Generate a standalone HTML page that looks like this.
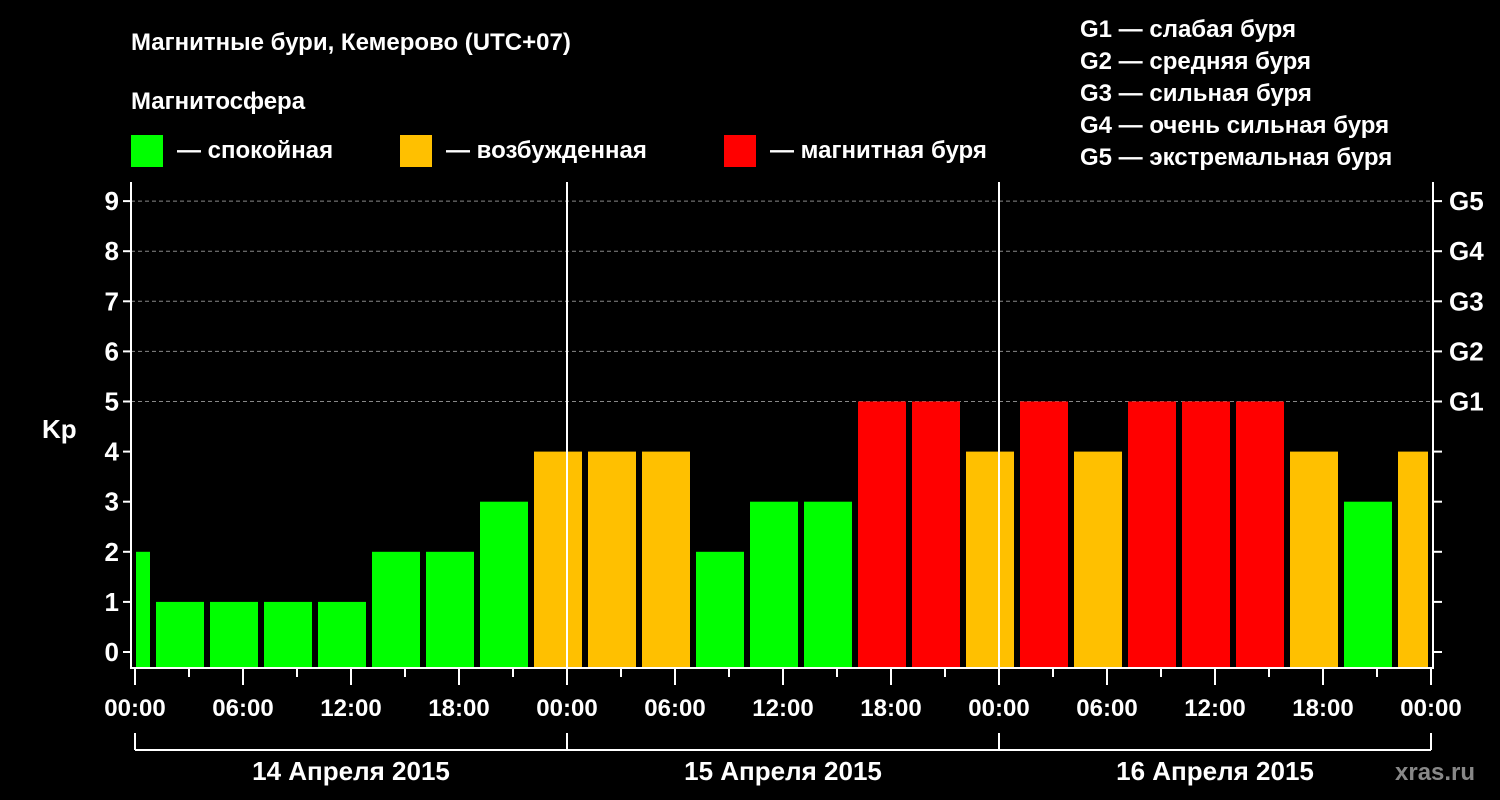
<!DOCTYPE html>
<html><head><meta charset="utf-8"><style>
html,body{margin:0;padding:0;background:#000;}
svg{display:block;font-family:"Liberation Sans",Arial,sans-serif;font-weight:bold;}
</style></head><body>
<svg id="chart" width="1500" height="800" viewBox="0 0 1500 800">
<rect width="1500" height="800" fill="#000"/>
<text x="131" y="50" fill="#fff" font-size="24">Магнитные бури, Кемерово (UTC+07)</text>
<text x="131" y="109" fill="#fff" font-size="24">Магнитосфера</text>
<g><rect x="131" y="135" width="32" height="32" fill="#00ff00"/><text x="177" y="158" fill="#fff" font-size="24">— спокойная</text></g>
<g><rect x="400" y="135" width="32" height="32" fill="#ffc000"/><text x="446" y="158" fill="#fff" font-size="24">— возбужденная</text></g>
<g><rect x="724" y="135" width="32" height="32" fill="#ff0000"/><text x="770" y="158" fill="#fff" font-size="24">— магнитная буря</text></g>
<g fill="#fff" font-size="24">
<text x="1080" y="37">G1 — слабая буря</text>
<text x="1080" y="69">G2 — средняя буря</text>
<text x="1080" y="101">G3 — сильная буря</text>
<text x="1080" y="133">G4 — очень сильная буря</text>
<text x="1080" y="165">G5 — экстремальная буря</text>
</g>
<text x="42" y="438" fill="#fff" font-size="26">Kp</text>
<text x="1395" y="780" fill="#888" font-size="24">xras.ru</text>
<g id="plot"></g>
</svg>
<script>
const kpValues = [2,1,1,1,1,2,2,3,4,4,4,2,3,3,5,5,4,5,4,5,5,5,4,3,4];
const barStartHour = -1; // first bar centered at -0.5h, 3h slots
const yTicks = [0,1,2,3,4,5,6,7,8,9];
const gLabels = ["G1","G2","G3","G4","G5"];
const xTickLabels = ["00:00","06:00","12:00","18:00","00:00","06:00","12:00","18:00","00:00","06:00","12:00","18:00","00:00"];
const dayLabels = ["14 Апреля 2015","15 Апреля 2015","16 Апреля 2015"];

const X0=135, PXH=18, Y0=652, PXU=50.1, LEFT=131, RIGHT=1433, TOP=182, BOTTOM=668;
const xs=h=>X0+h*PXH, ys=v=>Y0-v*PXU;
const ns="http://www.w3.org/2000/svg", plot=document.getElementById('plot');
function mk(t,a){const e=document.createElementNS(ns,t);for(const k in a)e.setAttribute(k,a[k]);plot.appendChild(e);return e;}
function col(v){return v>=5?"#ff0000":(v>=4?"#ffc000":"#00ff00");}
// grid
yTicks.forEach(v=>{
  if(v>=5){const g=mk('line',{x1:LEFT,x2:RIGHT,y1:ys(v),y2:ys(v),stroke:'#888','stroke-dasharray':'4,3','stroke-width':1});
  
  }
});
// bars
kpValues.forEach((v,i)=>{
  const c=xs(barStartHour+0.5+3*i+1)-PXH*1.5; // center
  const cx=xs(3*i-0.5);
  let x1=cx-24,x2=cx+24;
  x1=Math.max(x1,136);x2=Math.min(x2,1428);
  const r=mk('rect',{x:x1,y:ys(v),width:x2-x1,height:BOTTOM-ys(v),fill:col(v)});
  
  
});
// day separators
[24,48].forEach(h=>{const l=mk('line',{x1:xs(h),x2:xs(h),y1:TOP,y2:BOTTOM,stroke:'#fff','stroke-width':2});

});
// axes
const ax=mk('path',{d:`M${LEFT},${TOP}V${BOTTOM}H${RIGHT}V${TOP}`,stroke:'#fff','stroke-width':2,fill:'none'});


// y ticks
yTicks.forEach(v=>{
  mk('line',{x1:LEFT-8,x2:LEFT,y1:ys(v),y2:ys(v),stroke:'#fff','stroke-width':2});
  mk('line',{x1:RIGHT,x2:RIGHT+9,y1:ys(v),y2:ys(v),stroke:'#fff','stroke-width':2});
  const t=mk('text',{x:LEFT-12,y:ys(v)+9,fill:'#fff','font-size':26,'text-anchor':'end'});t.textContent=v;
  
  
});
gLabels.forEach((g,i)=>{const t=mk('text',{x:1449,y:ys(5+i)+9,fill:'#fff','font-size':26});t.textContent=g;

});
// x ticks
for(let h=0;h<=72;h+=3){const maj=h%6==0;mk('line',{x1:xs(h),x2:xs(h),y1:BOTTOM,y2:BOTTOM+(maj?17:9),stroke:'#fff','stroke-width':2});}
xTickLabels.forEach((s,i)=>{const t=mk('text',{x:xs(i*6),y:716,fill:'#fff','font-size':24,'text-anchor':'middle'});t.textContent=s;

});
// date bracket
mk('line',{x1:xs(0),x2:xs(72),y1:750,y2:750,stroke:'#fff','stroke-width':2});
[0,24,48,72].forEach(h=>mk('line',{x1:xs(h),x2:xs(h),y1:733,y2:750,stroke:'#fff','stroke-width':2}));
dayLabels.forEach((s,i)=>{const t=mk('text',{x:xs(i*24+12),y:780,fill:'#fff','font-size':26,'text-anchor':'middle'});t.textContent=s;

});
</script>
</body></html>
